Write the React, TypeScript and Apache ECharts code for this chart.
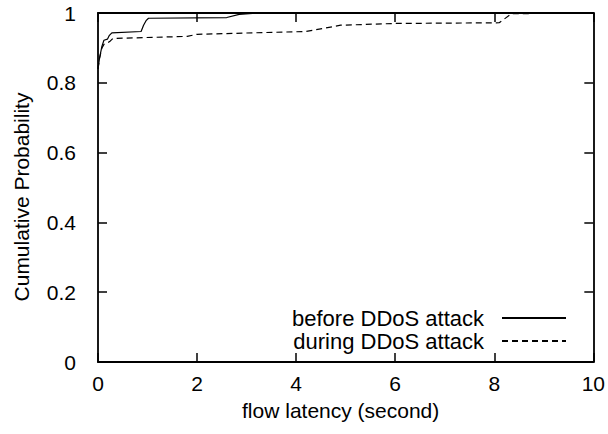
import React, { useEffect, useRef } from "react";
import * as echarts from "echarts";

const beforeX = [0, 0.03, 0.08, 0.12, 0.19, 0.23, 0.28, 0.87, 0.92, 0.97, 1.02, 2.6, 2.85, 3.2, 10];
const beforeY = [0.84, 0.87, 0.905, 0.922, 0.925, 0.936, 0.943, 0.947, 0.965, 0.978, 0.985, 0.987, 0.996, 1.0, 1.0];
const duringX = [0, 0.03, 0.08, 0.12, 0.19, 0.25, 0.3, 1.8, 2.0, 4.2, 4.9, 6.0, 8.1, 8.35, 10];
const duringY = [0.84, 0.87, 0.9, 0.91, 0.914, 0.92, 0.927, 0.933, 0.939, 0.947, 0.965, 0.97, 0.972, 0.998, 1.0];
const seriesNames = ["before DDoS attack", "during DDoS attack"];
const xLabel = "flow latency (second)";
const yLabel = "Cumulative Probability";

const FONT = "Liberation Sans";

export default function App() {
  const ref = useRef<HTMLDivElement>(null);
  useEffect(() => {
    if (!ref.current) return;
    const chart = echarts.init(ref.current, undefined, { renderer: "svg" });
    const axisCommon = {
      type: "value",
      axisLine: { show: true, onZero: false, lineStyle: { color: "#000", width: 1.8 } },
      axisTick: { show: true, inside: true, length: 9, lineStyle: { color: "#000", width: 1.5 } },
      splitLine: { show: false },
    };
    chart.setOption({
      animation: false,
      backgroundColor: "#fff",
      textStyle: { fontFamily: FONT },
      grid: { left: 98, top: 13, width: 497, height: 349 },
      legend: {
        orient: "vertical",
        right: 41,
        top: 307,
        padding: 0,
        align: "right",
        itemWidth: 64,
        itemHeight: 14,
        itemGap: 1,
        itemStyle: { opacity: 0, color: "rgba(0,0,0,0)", borderWidth: 0 },
        textStyle: { fontFamily: FONT, fontSize: 22, color: "#000", lineHeight: 22, padding: [0, 13, 0, 0] },
        data: seriesNames,
      },
      graphic: [
        {
          type: "text",
          x: 21,
          y: 197,
          rotation: Math.PI / 2,
          style: {
            text: yLabel,
            fontFamily: FONT,
            fontSize: 21,
            fill: "#000",
            align: "center",
            verticalAlign: "middle",
          },
        },
      ],
      xAxis: [
        {
          ...axisCommon,
          position: "bottom",
          min: 0,
          max: 10,
          interval: 2,
          name: xLabel,
          nameLocation: "middle",
          nameGap: 38,
          nameTextStyle: { fontFamily: FONT, fontSize: 21, color: "#000", padding: [0, 10, 0, 0] },
          axisLabel: { fontFamily: FONT, fontSize: 21, color: "#000", margin: 11 },
        },
        {
          ...axisCommon,
          position: "top",
          min: 0,
          max: 10,
          interval: 2,
          axisLabel: { show: false },
        },
      ],
      yAxis: [
        {
          ...axisCommon,
          position: "left",
          min: 0,
          max: 1,
          interval: 0.2,
          axisLabel: { fontFamily: FONT, fontSize: 21, color: "#000", margin: 22 },
        },
        {
          ...axisCommon,
          position: "right",
          min: 0,
          max: 1,
          interval: 0.2,
          axisLabel: { show: false },
        },
      ],
      series: [
        {
          name: seriesNames[0],
          type: "line",
          symbol: "none",
          data: beforeX.map((x, i) => [x, beforeY[i]]),
          lineStyle: { color: "#000", width: 1.2, type: "solid" },
          itemStyle: { color: "#000" },
        },
        {
          name: seriesNames[1],
          type: "line",
          symbol: "none",
          data: duringX.map((x, i) => [x, duringY[i]]),
          lineStyle: { color: "#000", width: 1.2, type: [6, 4] },
          itemStyle: { color: "#000" },
        },
      ],
    });
    return () => chart.dispose();
  }, []);
  return (
    <div
      ref={ref}
      style={{ position: "absolute", left: 0, top: 0, width: 608, height: 434 }}
    />
  );
}
